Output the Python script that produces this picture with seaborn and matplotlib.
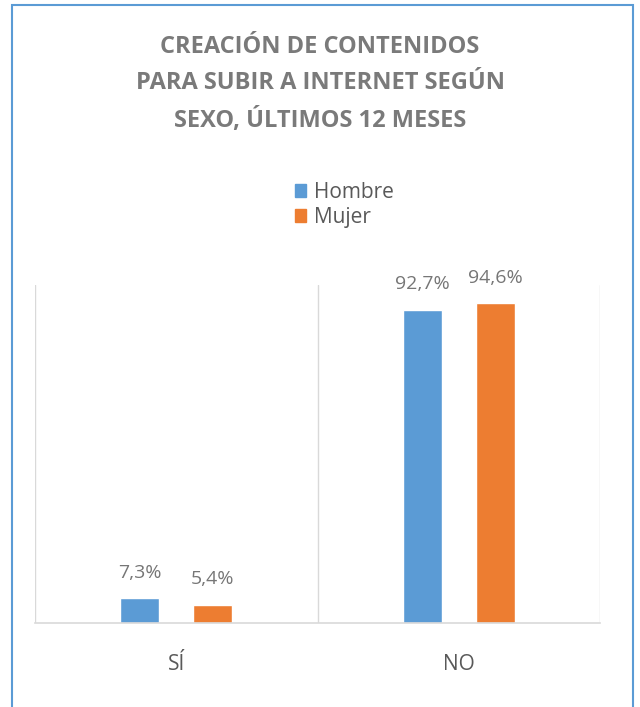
import pandas as pd
import matplotlib.pyplot as plt
import seaborn as sns
from matplotlib.patches import Rectangle

# data
categories = ["SÍ", "NO"]
sexes = ["Hombre", "Mujer"]
hombre = [7.3, 92.7]
mujer = [5.4, 94.6]
title = "CREACIÓN DE CONTENIDOS\nPARA SUBIR A INTERNET SEGÚN\nSEXO, ÚLTIMOS 12 MESES"

colors = {"Hombre": "#5B9BD5", "Mujer": "#ED7D31"}
label_grey = "#767676"
text_grey = "#595959"

df = pd.DataFrame({
    "Categoria": categories * 2,
    "Sexo": [sexes[0]] * 2 + [sexes[1]] * 2,
    "Valor": hombre + mujer,
})

sns.set_theme(style="white")
plt.rcParams["font.family"] = ["Open Sans", "DejaVu Sans"]

fig = plt.figure(figsize=(6.4, 7.07), dpi=100)
ax = fig.add_axes([35 / 640, 1 - 623 / 707, 565 / 640, 338 / 707])

sns.barplot(data=df, x="Categoria", y="Valor", hue="Sexo", order=categories,
            hue_order=sexes, palette=colors, width=0.518, gap=0.467,
            saturation=1, ax=ax, legend=False)

ax.set_xlim(-0.5, 1.5)
ax.set_ylim(0, 100)
ax.set_yticks([])
ax.set_xlabel("")
ax.set_ylabel("")

# separators between categories
for xv in [-0.5, 0.5, 1.5]:
    ax.axvline(xv, color="#D9D9D9", lw=1, zorder=0)
for side in ["top", "left", "right"]:
    ax.spines[side].set_visible(False)
ax.spines["bottom"].set_color("#D9D9D9")
ax.spines["bottom"].set_linewidth(1.2)

ax.tick_params(axis="x", length=0, pad=22)
ax.set_xticks(range(len(categories)))
ax.set_xticklabels(categories, fontsize=15, color=text_grey)

for cont in ax.containers:
    ax.bar_label(cont, labels=[f"{v:.1f}%".replace(".", ",") for v in cont.datavalues],
                 padding=12, fontsize=14, color=label_grey)

# legend
handles = [plt.Rectangle((0, 0), 1, 1, color=colors[s]) for s in sexes]
fig.legend(handles, sexes, loc="upper left", bbox_to_anchor=(276 / 640, 1 - 163 / 707),
           frameon=False, fontsize=15, handlelength=0.55, handleheight=0.55,
           handletextpad=0.35, labelspacing=0.2, labelcolor=text_grey)

fig.text(0.5, 1 - 84 / 707, title, ha="center", va="center", fontsize=17,
         fontweight="bold", color="#7A7A7A", linespacing=1.65)

# outer border
fig.patches.append(Rectangle((12 / 640, -0.01), 621 / 640, 1 - 5 / 707 + 0.01,
                             transform=fig.transFigure, fill=False,
                             edgecolor="#5B9BD5", lw=1.5))

plt.savefig("out.png", dpi=100)
plt.close()
